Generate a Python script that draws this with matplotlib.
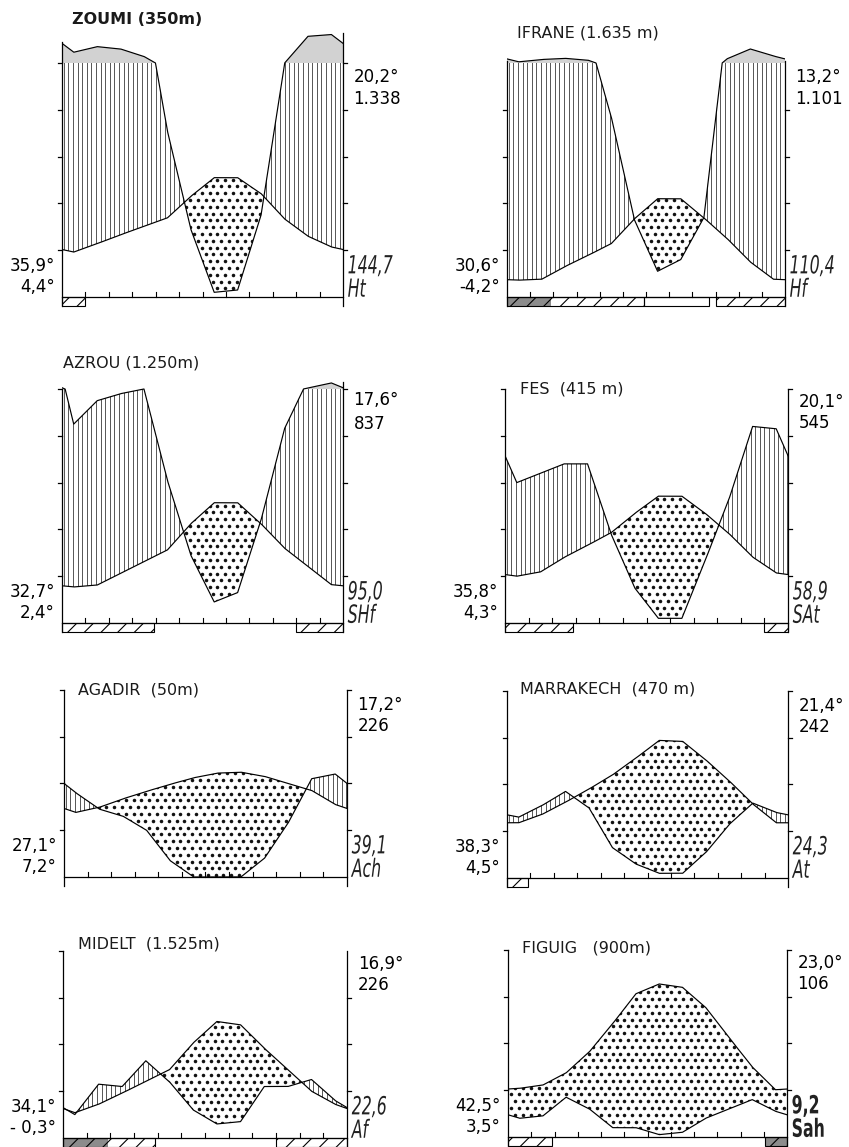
import numpy as np
import matplotlib
matplotlib.use("Agg")
import matplotlib.pyplot as plt
import matplotlib.transforms as mtransforms
from matplotlib.path import Path
from matplotlib.patches import Rectangle, PathPatch
from matplotlib.textpath import TextPath
from matplotlib.font_manager import FontProperties

W, H = 849, 1147
PPU = 4.68          # pixels per 10 degC / 20 mm unit
FONT = ["DejaVu Sans"]

# ---------------------------------------------------------------------------
# monthly data, Jan..Dec : mean temperature (degC) and rainfall (mm)
# ---------------------------------------------------------------------------
T_ZOUMI = [9.6, 11.4, 13.3, 15.1, 16.9, 21.5, 25.5, 25.5, 22.1, 16.7, 13.0, 10.7]
P_ZOUMI = [146, 170, 160, 128, 71, 29, 2, 3, 35, 99, 214, 222]

T_IFRANE = [3.6, 3.8, 6.5, 8.9, 11.4, 16.7, 21.0, 21.0, 16.9, 12.5, 7.5, 3.8]
P_IFRANE = [105, 115, 120, 112, 77, 33, 11, 16, 34, 118, 160, 130]

T_AZROU = [7.7, 8.1, 10.6, 13.1, 15.6, 21.2, 25.7, 25.7, 21.2, 16.0, 12.1, 8.2]
P_AZROU = [85, 95, 98, 100, 61, 29, 9, 13, 44, 83, 104, 126]

T_FES = [10.0, 10.9, 14.0, 16.6, 19.3, 23.4, 27.1, 27.1, 23.4, 19.1, 14.1, 10.7]
P_FES = [60, 64, 68, 68, 38, 15, 2, 2, 27, 53, 84, 83]

T_AGADIR = [13.8, 14.9, 16.7, 18.3, 19.8, 21.2, 22.2, 22.4, 21.5, 20.0, 18.5, 15.5]
P_AGADIR = [36, 29, 26, 20, 7, 0, 0, 0, 8, 23, 42, 44]

T_MARRAKECH = [11.8, 13.6, 16.2, 19.0, 22.0, 25.6, 29.4, 29.2, 25.2, 20.7, 15.8, 11.8]
P_MARRAKECH = [26, 31, 37, 30, 13, 6, 2, 2, 11, 23, 32, 28]

T_MIDELT = [5.4, 7.2, 9.6, 12.1, 14.6, 20.3, 24.9, 24.2, 19.2, 14.6, 10.0, 7.2]
P_MIDELT = [10, 23, 22, 33, 24, 12, 6, 7, 22, 22, 25, 16]

T_FIGUIG = [10.4, 11.1, 13.7, 18.2, 24.2, 30.6, 32.7, 32.0, 27.7, 21.3, 15.0, 10.1]
P_FIGUIG = [8, 9, 17, 12, 4, 4, 1, 2, 8, 12, 16, 11]

TITLES = ["ZOUMI (350m)", "IFRANE (1.635 m)", "AZROU (1.250m)", "FES  (415 m)",
          "AGADIR  (50m)", "MARRAKECH  (470 m)", "MIDELT  (1.525m)", "FIGUIG   (900m)"]
TEMPS = [T_ZOUMI, T_IFRANE, T_AZROU, T_FES, T_AGADIR, T_MARRAKECH, T_MIDELT, T_FIGUIG]
RAINS = [P_ZOUMI, P_IFRANE, P_AZROU, P_FES, P_AGADIR, P_MARRAKECH, P_MIDELT, P_FIGUIG]

# M (max of warmest month) / m (min of coldest month)
LEFT_HI = ["35,9°", "30,6°", "32,7°", "35,8°", "27,1°", "38,3°", "34,1°", "42,5°"]
LEFT_LO = ["4,4°", "-4,2°", "2,4°", "4,3°", "7,2°", "4,5°", "- 0,3°", "3,5°"]
# annual mean temperature / annual rainfall
MEAN_T = ["20,2°", "13,2°", "17,6°", "20,1°", "17,2°", "21,4°", "16,9°", "23,0°"]
ANNUAL_P = ["1.338", "1.101", "837", "545", "226", "242", "226", "106"]
# Emberger quotient / bioclimate
Q2 = ["144,7", "110,4", "95,0", "58,9", "39,1", "24,3", "22,6", "9,2"]
BIOCLIM = ["Ht", "Hf", "SHf", "SAt", "Ach", "At", "Af", "Sah"]

# frost periods (month spans) under the axis
FROST = [[(0, 1)], [(0, 5.9), (9, 12)], [(0, 3.95), (10, 12)], [(0, 2.9), (11, 12)],
         [], [(0, 0.9)], [(0, 3.9), (9, 12)], [(0, 1.9), (11.05, 12)]]
FROST_DARK = [[], [(0, 1.9)], [], [], [], [], [(0, 1.9)], [(11.05, 12)]]
FROST_OPEN = [[], [(5.9, 8.7)], [], [], [], [], [], []]

# panel frames in pixels: left axis x, right axis x, baseline y
FRAMES = [(62, 343, 297), (507, 785, 297), (62, 343, 623), (505, 788, 623),
          (64, 347, 877), (507, 788, 878), (63, 347, 1138), (508, 787, 1137)]
AXIS_TOP = [(54.5, 56.5), (50.5, 50.5), (50, 51.5), (50, 50),
            (40, 40), (40, 40), (40, 40), (40, 40)]
TOP_TICK = [(False, False), (False, False), (True, False), (True, True),
            (True, True), (True, True), (True, False), (True, True)]
TITLE_POS = [(0.43, 59.2), (0.43, 56.4), (0.05, 55.6), (0.64, 50.0),
             (0.6, 40.0), (0.55, 40.3), (0.64, 41.4), (0.6, 40.4)]
TOPLAB_Y = [(47, 42.3), (47, 42.3), (47.6, 42.5), (47.2, 42.7),
            (36.8, 32.2), (36.8, 32.2), (37.2, 32.6), (37.2, 32.6)]


def rain_units(p):
    """rain in mm -> diagram units (P = 2T, 1/10 scale above 100 mm)"""
    p = np.asarray(p, dtype=float)
    return np.where(p <= 100, p / 2.0, 50 + (p - 100) / 20.0)


def clip_to(artist, coll, ax):
    paths = coll.get_paths()
    if not paths:
        artist.remove()
        return
    artist.set_clip_path(Path.make_compound_path(*paths), ax.transData)


def narrow_text(ax, x, y, s, size, sx=0.63, bold=False, italic=True):
    # condensed lettering: text outline squeezed horizontally
    fp = FontProperties(family="DejaVu Sans", style="italic" if italic else "normal",
                        weight="bold" if bold else "normal")
    tp = TextPath((0, 0), s, size=size, prop=fp)
    k = 100 / 72.0
    cap = size * 0.73
    tr = (mtransforms.Affine2D().translate(0, -cap / 2).scale(sx * k, k)
          + mtransforms.ScaledTranslation(x, y, ax.transData))
    ax.add_patch(PathPatch(tp, transform=tr, facecolor="#222222", edgecolor="none",
                           clip_on=False))


def draw_panel(fig, k):
    xl, xr, yb = FRAMES[k]
    ppm = (xr - xl) / 12.0
    y0, y1 = -5, 64
    ax = fig.add_axes([xl / W, 1 - (yb - y0 * PPU) / H,
                       (xr - xl) / W, (y1 - y0) * PPU / H])
    ax.set_xlim(0, 12)
    ax.set_ylim(y0, y1)
    ax.axis("off")

    t = np.asarray(TEMPS[k], float)
    p = np.asarray(RAINS[k], float)
    xs = np.concatenate([[0], np.arange(12) + 0.5, [12]])
    te = np.concatenate([[(t[0] + t[-1]) / 2], t, [(t[0] + t[-1]) / 2]])
    pe = np.concatenate([[(p[0] + p[-1]) / 2], p, [(p[0] + p[-1]) / 2]])
    xd = np.linspace(0, 12, 2401)
    td = np.interp(xd, xs, te)
    pd_ = rain_units(np.interp(xd, xs, pe))

    # humid part (vertical lines)
    wet = ax.fill_between(xd, td, np.minimum(pd_, 50), where=pd_ > td,
                          interpolate=True, facecolor="none", edgecolor="none")
    lines_x = np.arange(0.08, 12, 4.6 / ppm)
    vl = ax.vlines(lines_x, -1, 70, colors="#4a4a4a", linewidth=0.65)
    clip_to(vl, wet, ax)

    # above 100 mm (reduced scale)
    ax.fill_between(xd, 50, pd_, where=pd_ > 50, interpolate=True,
                    facecolor="#d2d2d2", edgecolor="none")

    # dry part (dots)
    dry = ax.fill_between(xd, pd_, td, where=td > pd_, interpolate=True,
                          facecolor="none", edgecolor="none")
    dx, dy = 7.8 / ppm, 6.8 / PPU
    gx, gy = [], []
    for j, yy in enumerate(np.arange(0.4, 60, dy)):
        off = (j % 2) * dx / 2
        xx = np.arange(0.14 + off, 12, dx)
        gx.extend(xx)
        gy.extend([yy] * len(xx))
    sc = ax.scatter(gx, gy, s=6.5, c="#111111", linewidths=0)
    clip_to(sc, dry, ax)

    # curves
    ax.plot(xd, td, color="black", lw=0.85)
    ax.plot(xd, pd_, color="black", lw=0.85)

    # axes frame
    lt, rt = AXIS_TOP[k]
    tl = 0.9 * 4.5 / ppm
    ax.plot([0, 12], [0, 0], color="black", lw=0.9, clip_on=False)
    ax.plot([0, 0], [-2, lt], color="black", lw=0.9, clip_on=False)
    ax.plot([12, 12], [-2, rt], color="black", lw=0.9, clip_on=False)
    for v in range(10, 60, 10):
        if v < lt - 0.5 or (v <= lt + 0.5 and TOP_TICK[k][0]):
            ax.plot([-tl, 0], [v, v], color="black", lw=0.9, clip_on=False)
        if v < rt - 0.5 or (v <= rt + 0.5 and TOP_TICK[k][1]):
            ax.plot([12, 12 + tl], [v, v], color="black", lw=0.9, clip_on=False)
    for m in range(1, 12):
        ax.plot([m, m], [0, 1.05], color="black", lw=0.8, clip_on=False)

    # frost boxes
    bh = 1.9
    for a, b in FROST_DARK[k]:
        ax.add_patch(Rectangle((a, -bh), b - a, bh, facecolor="#8c8c8c",
                               edgecolor="none", clip_on=False))
    for a, b in FROST[k]:
        ax.add_patch(Rectangle((a, -bh), b - a, bh, facecolor="none",
                               edgecolor="black", hatch="//", lw=0.8, clip_on=False))
    for a, b in FROST_OPEN[k]:
        ax.add_patch(Rectangle((a, -bh), b - a, bh, facecolor="none",
                               edgecolor="black", lw=0.8, clip_on=False))

    # texts
    tx, ty = TITLE_POS[k]
    ax.text(tx, ty, TITLES[k], fontsize=11.5, family=FONT, ha="left", va="center",
            fontweight="bold" if k == 0 else "normal", color="#1a1a1a")
    ax.text(-0.3, 6.6, LEFT_HI[k], fontsize=12, family=FONT, ha="right", va="center")
    ax.text(-0.3, 2.2, LEFT_LO[k], fontsize=12, family=FONT, ha="right", va="center")
    y_a, y_b = TOPLAB_Y[k]
    ax.text(12.45, y_a, MEAN_T[k], fontsize=12, family=FONT, ha="left", va="center")
    ax.text(12.45, y_b, ANNUAL_P[k], fontsize=12, family=FONT, ha="left", va="center")
    bold = k == 7
    narrow_text(ax, 12.2, 7.0, Q2[k], 18, bold=bold, italic=not bold)
    narrow_text(ax, 12.2, 2.0, BIOCLIM[k], 18, bold=bold, italic=not bold)


plt.rcParams["hatch.linewidth"] = 0.8
fig = plt.figure(figsize=(W / 100, H / 100), dpi=100)
fig.patch.set_facecolor("white")
for k in range(8):
    draw_panel(fig, k)
fig.savefig("out.png", dpi=100, facecolor="white")
